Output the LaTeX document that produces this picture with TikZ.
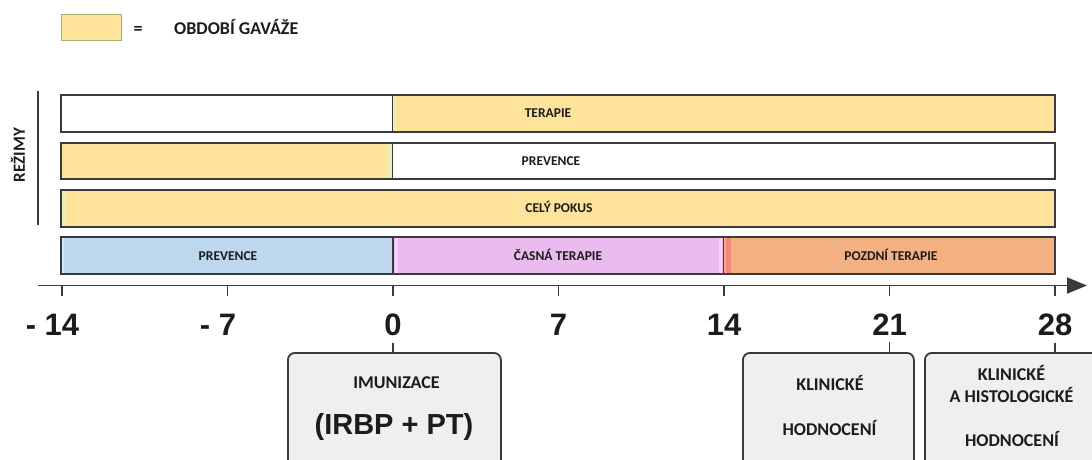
\documentclass[tikz,border=0pt]{standalone}
\usepackage{fontspec}
\setmainfont{Carlito}
\newfontfamily\arialf{Liberation Sans}
\usetikzlibrary{arrows.meta}
\definecolor{gyel}{HTML}{FDE49A}
\definecolor{pblue}{HTML}{BDD7EE}
\definecolor{ppink}{HTML}{EABBEE}
\definecolor{porange}{HTML}{F3B083}
\definecolor{lgreen}{HTML}{E4F2B4}
\definecolor{lpink}{HTML}{F6D2F6}
\definecolor{lred}{HTML}{F2877A}
\definecolor{lblue}{HTML}{CFE6FA}
\definecolor{edgec}{HTML}{3A3A3A}
\definecolor{legedge}{HTML}{A8B070}
\definecolor{boxfill}{HTML}{EFEFEF}
\definecolor{txt}{HTML}{1C1C1C}
\begin{document}
\begin{tikzpicture}[x=1pt,y=-1pt,
  barlbl/.style={font=\bfseries\fontsize{13.5}{16}\selectfont, text=txt, inner sep=0, anchor=base},
  boxlbl/.style={font=\bfseries\fontsize{18}{20}\selectfont, text=txt, inner sep=0, anchor=base},
  daylbl/.style={font=\arialf\bfseries\fontsize{31}{34}\selectfont, text=txt, inner sep=0, anchor=base},
  bigpar/.style={font=\arialf\bfseries\fontsize{29}{32}\selectfont, text=txt, inner sep=0, anchor=base},
  barframe/.style={draw=edgec, line width=1.6pt},
  sepline/.style={draw=edgec, line width=0.9pt},
  evbox/.style={draw=edgec, fill=boxfill, line width=1.8pt, rounded corners=7pt, inner sep=0, anchor=north west},
  axisline/.style={draw=edgec, line width=1.8pt},
  conn/.style={draw=edgec, line width=1.8pt},
]
\useasboundingbox (0,0) rectangle (1092,459);
\clip (0,0) rectangle (1092,459);

% legend
\node[draw=legedge, fill=gyel, line width=0.8pt, inner sep=0, minimum width=60pt, minimum height=26pt, anchor=north west] (legbox) at (61,14) {};
\node[boxlbl] (eq) at (138,34.5) {=};
\node[boxlbl, anchor=base west] (legtxt) at (174,34.7) {OBDOBÍ GAVÁŽE};

% REŽIMY
\node[font=\bfseries\fontsize{17}{20}\selectfont, text=txt, rotate=90, inner sep=0] (rezimy) at (18,155) {REŽIMY};
\draw[draw=edgec, line width=1.5pt] (38,91) -- (38,225);

% row 1: TERAPIE
\fill[white] (61,95) rectangle (393,132);
\fill[gyel] (393,95) rectangle (1055,132);
\fill[lgreen] (393,96) rectangle (396,131);
\draw[sepline] (392.5,95) -- (392.5,132);
\draw[barframe] (61,95) rectangle (1055,132);
\node[barlbl] (r1lbl) at (548,117.5) {TERAPIE};

% row 2: PREVENCE
\fill[gyel] (61,143) rectangle (393,179);
\fill[white] (393,143) rectangle (1055,179);
\fill[lgreen] (388,144) rectangle (392,178);
\draw[sepline] (392.5,143) -- (392.5,179);
\draw[barframe] (61,143) rectangle (1055,179);
\node[barlbl] (r2lbl) at (551,165) {PREVENCE};

% row 3: CELÝ POKUS
\fill[gyel] (61,190) rectangle (1055,227);
\fill[lgreen] (62,191) rectangle (66,226);
\draw[barframe] (61,190) rectangle (1055,227);
\node[barlbl] (r3lbl) at (559,212.5) {CELÝ POKUS};

% row 4: phases
\fill[pblue] (61,237) rectangle (393,274);
\fill[ppink] (393,237) rectangle (724,274);
\fill[porange] (724,237) rectangle (1055,274);
\fill[lblue] (62,238) rectangle (64,273);
\fill[lpink] (395,238) rectangle (398,273);
\fill[lpink] (719,238) rectangle (722,273);
\fill[lred] (726,238) rectangle (731,273);
\draw[draw=edgec, line width=1.6pt] (393,237) -- (393,274);
\draw[draw=edgec, line width=1.6pt] (723.5,237) -- (723.5,274);
\draw[barframe] (61,237) rectangle (1055,274);
\node[barlbl] (p1lbl) at (228,260) {PREVENCE};
\node[barlbl] (p2lbl) at (558,260.5) {ČASNÁ TERAPIE};
\node[barlbl] (p3lbl) at (891,260.5) {POZDNÍ TERAPIE};

% axis
\draw[axisline, -{Triangle[length=20pt,width=16pt]}] (38,285.5) -- (1087,285.5);
\foreach \xx in {62,227.5,393,558.5,724,889.5,1055}{
  \draw[axisline] (\xx,285.5) -- (\xx,296);
}
\node[daylbl] (dm14) at (62,335) {\llap{- }14};
\node[daylbl] (dm7) at (227.5,335) {\llap{- }7};
\node[daylbl] (d0) at (393,335) {0};
\node[daylbl] (d7) at (558.5,335) {7};
\node[daylbl] (d14) at (724,335) {14};
\node[daylbl] (d21) at (889.5,335) {21};
\node[daylbl] (d28) at (1055,335) {28};

% event boxes
\node[evbox, minimum width=213pt, minimum height=140pt] (imu) at (287,352) {};
\node[evbox, minimum width=171pt, minimum height=140pt] (klin) at (742,352) {};
\node[evbox, minimum width=190pt, minimum height=140pt] (hist) at (924,352) {};

\draw[conn] ([yshift=-7pt]d0.south) -- (imu.north -| d0.south);
\draw[conn] ([yshift=-7pt]d21.south) -- (klin.north -| d21.south);
\draw[conn] ([yshift=-7pt]d28.south) -- (hist.north -| d28.south);

\node[boxlbl] (imu1) at (396.5,388.7) {IMUNIZACE};
\node[bigpar] (imu2) at (394,434) {(IRBP + PT)};
\node[boxlbl] (klin1) at (830,390.5) {KLINICKÉ};
\node[boxlbl] (klin2) at (829.5,435) {HODNOCENÍ};
\node[boxlbl] (hist1) at (1011.5,380.5) {KLINICKÉ};
\node[boxlbl] (hist2) at (1011.5,402.5) {A HISTOLOGICKÉ};
\node[boxlbl] (hist3) at (1012,446) {HODNOCENÍ};
\end{tikzpicture}
\end{document}
